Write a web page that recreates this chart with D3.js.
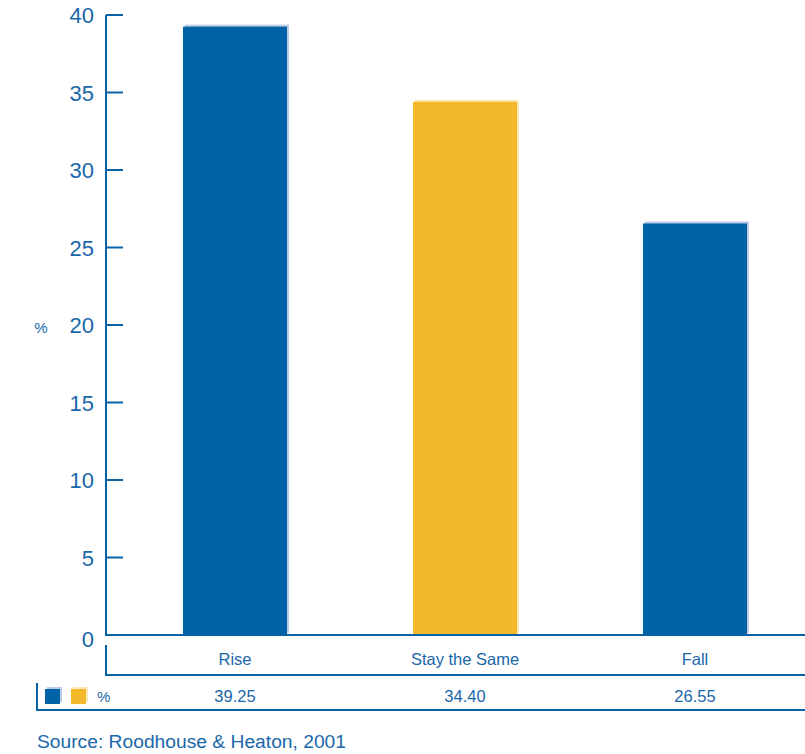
<!DOCTYPE html>
<html>
<head>
<meta charset="utf-8">
<script src="https://cdn.jsdelivr.net/npm/d3@7"></script>
<style>
  html, body { margin: 0; padding: 0; background: #fff; }
  svg { display: block; }
  text { font-family: "Liberation Sans", Arial, sans-serif; fill: #1a67a9; }
</style>
</head>
<body>
<svg id="chart" width="805" height="754"></svg>
<script>
// Expectations for the coming period (% of respondents)
const categories = ["Rise", "Stay the Same", "Fall"];
const values = [39.25, 34.40, 26.55];
const valueLabels = ["39.25", "34.40", "26.55"];
const barColors = ["#0062a7", "#f4b82b", "#0062a7"];
const shadowColors = ["#bccbe6", "#fbe7b8", "#bccbe6"];
const yTicks = [0, 5, 10, 15, 20, 25, 30, 35, 40];
const sourceNote = "Source: Roodhouse & Heaton, 2001";

const axisColor = "#0a62a6";
const svg = d3.select("#chart");

const x0 = 106, x1 = 805, yTop = 15, yBase = 635;

// band step 230px, bar width 104px
const x = d3.scaleBand()
  .domain(categories)
  .range([x0, x0 + 718])
  .paddingInner(1 - 104 / 230)
  .paddingOuter(77 / 230);

const y = d3.scaleLinear().domain([0, 40]).range([yBase, yTop]);

// bar shadows
svg.append("g").selectAll("rect")
  .data(values)
  .join("rect")
  .attr("x", (d, i) => x(categories[i]) + 2)
  .attr("y", d => y(d) - 2)
  .attr("width", x.bandwidth())
  .attr("height", d => yBase - y(d))
  .attr("fill", (d, i) => shadowColors[i]);

// bars
svg.append("g").selectAll("rect")
  .data(values)
  .join("rect")
  .attr("x", (d, i) => x(categories[i]))
  .attr("y", d => y(d))
  .attr("width", x.bandwidth())
  .attr("height", d => yBase - y(d))
  .attr("fill", (d, i) => barColors[i]);

// y axis: ticks point inward, labels on the left
const yAxis = svg.append("g").attr("transform", `translate(${x0},0)`);
yAxis.append("line")
  .attr("x1", 0).attr("x2", 0).attr("y1", yTop).attr("y2", yBase)
  .attr("stroke", axisColor).attr("stroke-width", 2);
yAxis.selectAll("line.tick")
  .data(yTicks.filter(t => t > 0))
  .join("line")
  .attr("class", "tick")
  .attr("x1", 0).attr("x2", 17)
  .attr("y1", d => y(d)).attr("y2", d => y(d))
  .attr("stroke", axisColor).attr("stroke-width", 2);
yAxis.selectAll("text")
  .data(yTicks)
  .join("text")
  .attr("x", -12)
  .attr("y", d => y(d) + (d === 0 ? 12 : 8))
  .attr("text-anchor", "end")
  .attr("font-size", 22)
  .text(d => d);

// y axis title
svg.append("text")
  .attr("x", 41).attr("y", 333)
  .attr("text-anchor", "middle")
  .attr("font-size", 15)
  .text("%");

// baseline
svg.append("line")
  .attr("x1", x0 - 1).attr("x2", x1).attr("y1", yBase).attr("y2", yBase)
  .attr("stroke", axisColor).attr("stroke-width", 2);

// data table: category row
const tbl = svg.append("g");
tbl.append("path")
  .attr("d", `M${x0},645V675H${x1}`)
  .attr("fill", "none").attr("stroke", axisColor).attr("stroke-width", 2);
tbl.selectAll("text.cat")
  .data(categories)
  .join("text")
  .attr("class", "cat")
  .attr("x", d => x(d) + x.bandwidth() / 2)
  .attr("y", 665)
  .attr("text-anchor", "middle")
  .attr("font-size", 16.5)
  .text(d => d);

// data table: value row with legend keys
tbl.append("path")
  .attr("d", `M37,683V710H${x1}`)
  .attr("fill", "none").attr("stroke", axisColor).attr("stroke-width", 2);
const keys = [["#0062a7", "#bccbe6"], ["#f4b82b", "#fbe7b8"]];
keys.forEach((k, i) => {
  tbl.append("rect").attr("x", 47 + i * 26).attr("y", 687)
    .attr("width", 15).attr("height", 15).attr("fill", k[1]);
  tbl.append("rect").attr("x", 45 + i * 26).attr("y", 689)
    .attr("width", 15).attr("height", 15).attr("fill", k[0]);
});
tbl.append("text")
  .attr("x", 97).attr("y", 702)
  .attr("font-size", 15)
  .text("%");
tbl.selectAll("text.val")
  .data(valueLabels)
  .join("text")
  .attr("class", "val")
  .attr("x", (d, i) => x(categories[i]) + x.bandwidth() / 2)
  .attr("y", 702)
  .attr("text-anchor", "middle")
  .attr("font-size", 16.5)
  .text(d => d);

// source note
svg.append("text")
  .attr("x", 37).attr("y", 748)
  .attr("font-family", "'Open Sans', sans-serif")
  .attr("font-size", 18)
  .attr("textLength", 309)
  .attr("lengthAdjust", "spacingAndGlyphs")
  .text(sourceNote);
</script>
</body>
</html>
